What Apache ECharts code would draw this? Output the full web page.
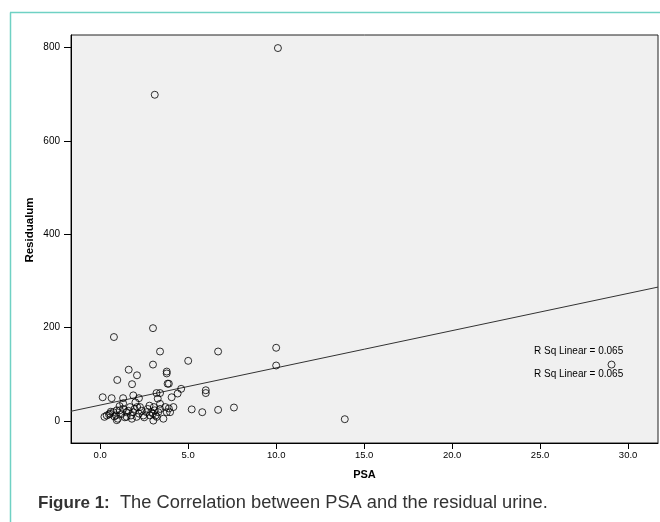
<!DOCTYPE html>
<html>
<head>
<meta charset="utf-8">
<script src="https://cdn.jsdelivr.net/npm/echarts@6/dist/echarts.min.js"></script>
<style>
html,body{margin:0;padding:0;background:#fff;}
#c{width:660px;height:522px;}
</style>
</head>
<body>
<div id="c"></div>
<script>
// Data: [PSA, Residualum]
var points = [
  [10.1, 799], [3.1, 699],
  [0.78, 180], [3.0, 199], [3.4, 149], [3.0, 121], [1.62, 110], [2.09, 98],
  [0.97, 88], [1.81, 79], [3.78, 106], [3.78, 102], [3.83, 80], [3.9, 80],
  [5.0, 129], [6.7, 149], [6.0, 66], [6.0, 60], [4.6, 69], [4.4, 59],
  [4.06, 51], [3.2, 60], [3.4, 60], [3.27, 48], [0.14, 51], [0.65, 49],
  [1.3, 49], [1.88, 55], [2.2, 49], [5.2, 25], [5.8, 19], [6.7, 24],
  [7.6, 29], [10.0, 157], [10.0, 119], [13.9, 4], [29.06, 121],
  [0.24, 9], [0.37, 12], [0.5, 14], [0.56, 16], [0.75, 19], [0.8, 10],
  [0.94, 23], [0.9, 12], [0.94, 2], [1.0, 5], [1.12, 23], [1.2, 15],
  [1.31, 26], [1.4, 8], [1.5, 19], [1.5, 9], [1.6, 22], [1.69, 30],
  [1.75, 12], [1.8, 5], [1.88, 19], [1.95, 26], [2.07, 9], [2.1, 30],
  [2.2, 16], [2.26, 30], [2.35, 22], [2.45, 12], [2.5, 8], [2.64, 19],
  [2.7, 26], [2.83, 12], [2.9, 19], [3.02, 1], [3.0, 16], [3.05, 30],
  [3.1, 23], [3.15, 12], [3.21, 9], [3.3, 19], [3.4, 37], [3.59, 5],
  [3.7, 30], [3.78, 19], [3.97, 19], [4.16, 30], [2.0, 40], [1.3, 38],
  [0.6, 20], [3.4, 26], [1.1, 32], [2.8, 33], [3.9, 27]
];
var fitLine = [[-1.66, 21], [31.7, 287]];
var xTicks = [0, 5, 10, 15, 20, 25, 30];
var yTicks = [0, 200, 400, 600, 800];
var yTitle = 'Residualum';
var xTitle = 'PSA';
var rSqLabel = 'R Sq Linear = 0.065';
var captionBold = 'Figure 1:';
var captionText = '  The Correlation between PSA and the residual urine.';

var chart = echarts.init(document.getElementById('c'));
var font = 'Liberation Sans, Arial, sans-serif';
chart.setOption({
  animation: false,
  backgroundColor: '#fff',
  grid: {
    left: 71, top: 35, right: 2, bottom: 79,
    show: true, backgroundColor: '#f0f0f0', borderColor: '#222', borderWidth: 1
  },
  xAxis: {
    type: 'value', min: -1.66, max: 31.7,
    name: xTitle, nameLocation: 'middle', nameGap: 26,
    nameTextStyle: {fontFamily: font, fontWeight: 'bold', fontSize: 11, color: '#000'},
    axisLine: {show: true, onZero: false, lineStyle: {color: '#000', width: 1}},
    axisTick: {show: true, length: 6, customValues: xTicks, lineStyle: {color: '#000'}},
    axisLabel: {customValues: xTicks, margin: 7, fontFamily: font, fontSize: 9.5, color: '#000',
      formatter: function (v) { return v.toFixed(1); }},
    splitLine: {show: false}
  },
  yAxis: {
    type: 'value', min: -47, max: 827,
    axisLine: {show: true, onZero: false, lineStyle: {color: '#000', width: 1}},
    axisTick: {show: true, length: 7, customValues: yTicks, lineStyle: {color: '#000'}},
    axisLabel: {customValues: yTicks, margin: 11, fontFamily: font, fontSize: 10, color: '#000'},
    splitLine: {show: false}
  },
  series: [
    {
      type: 'line', data: fitLine, showSymbol: false, symbol: 'none',
      lineStyle: {color: '#333', width: 1}, z: 1, silent: true
    },
    {
      type: 'scatter', data: points, symbol: 'circle', symbolSize: 7,
      itemStyle: {color: 'rgba(0,0,0,0)', borderColor: '#000', borderWidth: 1}, z: 2
    }
  ],
  graphic: [
    {type: 'line', shape: {x1: 10.5, y1: 12.5, x2: 10.5, y2: 522}, style: {stroke: '#6fd1c4', lineWidth: 1.5}},
    {type: 'line', shape: {x1: 10, y1: 12.5, x2: 660, y2: 12.5}, style: {stroke: '#6fd1c4', lineWidth: 1.5}},
    {type: 'text', x: 30, y: 230, rotation: Math.PI / 2, style: {
      text: yTitle, fontFamily: font, fontWeight: 'bold', fontSize: 11.5, fill: '#000',
      align: 'center', verticalAlign: 'middle'}},
    {type: 'text', left: 534, top: 346, style: {text: rSqLabel, fontFamily: font, fontSize: 10, fill: '#000'}},
    {type: 'text', left: 534, top: 369, style: {text: rSqLabel, fontFamily: font, fontSize: 10, fill: '#000'}},
    {type: 'text', left: 38, top: 494, style: {
      text: '{b|' + captionBold + '}{r|' + captionText + '}',
      rich: {
        b: {fontFamily: font, fontWeight: 'bold', fontSize: 17, fill: '#333'},
        r: {fontFamily: font, fontSize: 18.3, fill: '#333'}
      }
    }}
  ]
});
</script>
</body>
</html>
